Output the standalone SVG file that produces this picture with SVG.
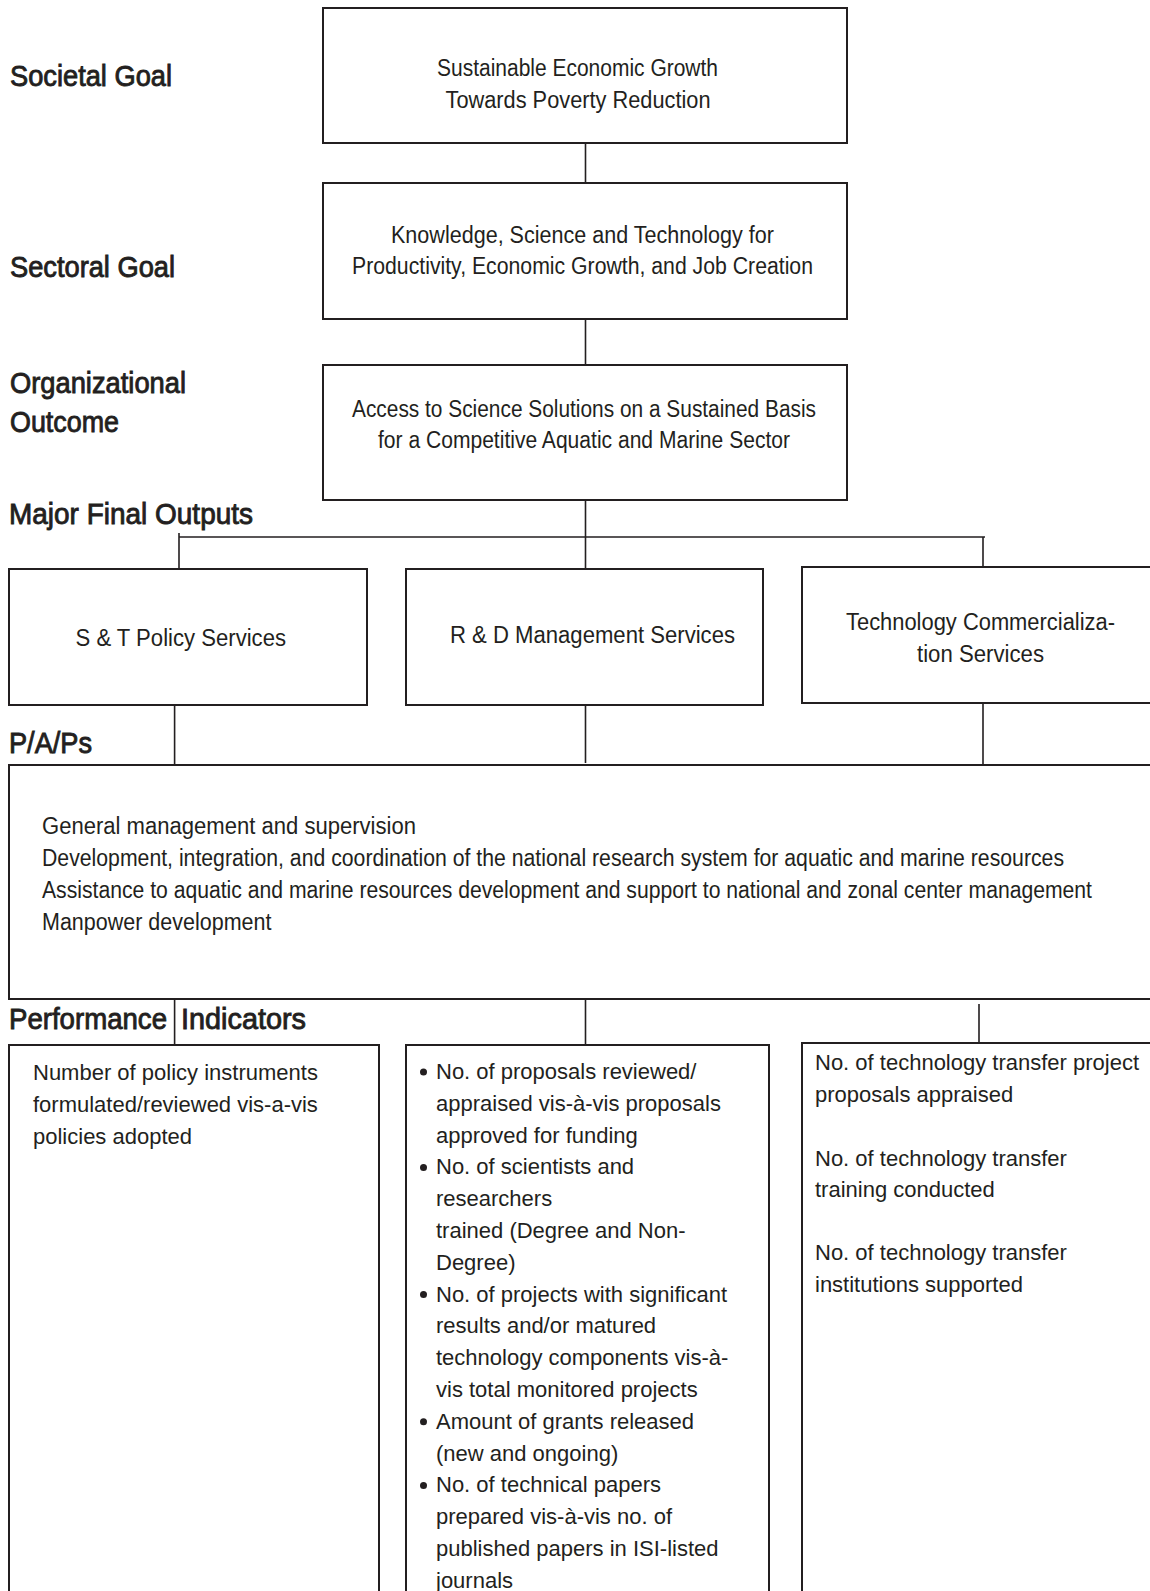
<svg xmlns="http://www.w3.org/2000/svg" width="1150" height="1591" viewBox="0 0 1150 1591">
<style>
.box{fill:#fff;stroke:#231f20;stroke-width:2}
.conn{stroke:#231f20;stroke-width:1.6;fill:none}
.lbl{font-family:"Liberation Sans",Arial,sans-serif;font-size:30px;fill:#231f20;stroke:#231f20;stroke-width:0.9}
.bt{font-family:"Liberation Sans",Arial,sans-serif;font-size:23px;fill:#231f20}
.pt{font-family:"Liberation Sans",Arial,sans-serif;font-size:22px;fill:#231f20}
.dot{fill:#231f20}
</style>
<rect width="1150" height="1591" fill="#fff"/>
<g id="connectors">
<path class="conn" d="M585.5 143V183M585.5 319V365M585.5 500V537M179 533V569M179 537H985M585.5 537V569M983 537V567M174.6 705V768M585.5 705V763M983 703V765M174.6 999V1045M585.5 999V1045M979 1004V1043"/>
</g>
<g id="labels">
<text class="lbl" x="10" y="86" textLength="162" lengthAdjust="spacingAndGlyphs">Societal Goal</text>
<text class="lbl" x="10" y="277" textLength="165" lengthAdjust="spacingAndGlyphs">Sectoral Goal</text>
<text class="lbl" x="10" y="393" textLength="176" lengthAdjust="spacingAndGlyphs">Organizational</text>
<text class="lbl" x="10" y="432" textLength="109" lengthAdjust="spacingAndGlyphs">Outcome</text>
<text class="lbl" x="9" y="524" textLength="244" lengthAdjust="spacingAndGlyphs">Major Final Outputs</text>
<text class="lbl" x="9" y="753" textLength="83" lengthAdjust="spacingAndGlyphs">P/A/Ps</text>
<text class="lbl" x="9" y="1029" textLength="158" lengthAdjust="spacingAndGlyphs">Performance</text>
<text class="lbl" x="181" y="1029" textLength="125" lengthAdjust="spacingAndGlyphs">Indicators</text>
</g>
<g id="societal">
<rect class="box" x="323" y="8" width="524" height="135"/>
<text class="bt" x="437" y="76" textLength="281" lengthAdjust="spacingAndGlyphs">Sustainable Economic Growth</text>
<text class="bt" x="445.5" y="108" textLength="265" lengthAdjust="spacingAndGlyphs">Towards Poverty Reduction</text>
</g>
<g id="sectoral">
<rect class="box" x="323" y="183" width="524" height="136"/>
<text class="bt" x="391" y="243" textLength="383" lengthAdjust="spacingAndGlyphs">Knowledge, Science and Technology for</text>
<text class="bt" x="352" y="274" textLength="461" lengthAdjust="spacingAndGlyphs">Productivity, Economic Growth, and Job Creation</text>
</g>
<g id="organizational">
<rect class="box" x="323" y="365" width="524" height="135"/>
<text class="bt" x="352" y="417" textLength="464" lengthAdjust="spacingAndGlyphs">Access to Science Solutions on a Sustained Basis</text>
<text class="bt" x="378" y="448" textLength="412" lengthAdjust="spacingAndGlyphs">for a Competitive Aquatic and Marine Sector</text>
</g>
<g id="mfo-st">
<rect class="box" x="9" y="569" width="358" height="136"/>
<text class="bt" x="75.5" y="646" textLength="210.5" lengthAdjust="spacingAndGlyphs">S &amp; T Policy Services</text>
</g>
<g id="mfo-rd">
<rect class="box" x="406" y="569" width="357" height="136"/>
<text class="bt" x="450" y="643" textLength="285" lengthAdjust="spacingAndGlyphs">R &amp; D Management Services</text>
</g>
<g id="mfo-tc">
<rect class="box" x="802" y="567" width="360" height="136"/>
<text class="bt" x="846" y="630" textLength="269" lengthAdjust="spacingAndGlyphs">Technology Commercializa-</text>
<text class="bt" x="917" y="662" textLength="127" lengthAdjust="spacingAndGlyphs">tion Services</text>
</g>
<g id="paps">
<rect class="box" x="9" y="765" width="1160" height="234"/>
<text class="bt" x="42" y="834" textLength="374" lengthAdjust="spacingAndGlyphs">General management and supervision</text>
<text class="bt" x="42" y="866" textLength="1022" lengthAdjust="spacingAndGlyphs">Development, integration, and coordination of the national research system for aquatic and marine resources</text>
<text class="bt" x="42" y="898" textLength="1050" lengthAdjust="spacingAndGlyphs">Assistance to aquatic and marine resources development and support to national and zonal center management</text>
<text class="bt" x="42" y="930" textLength="229.5" lengthAdjust="spacingAndGlyphs">Manpower development</text>
</g>
<g id="pi-st">
<rect class="box" x="9" y="1045" width="370" height="600"/>
<text class="pt" x="33" y="1080">Number of policy instruments</text>
<text class="pt" x="33" y="1112">formulated/reviewed vis-a-vis</text>
<text class="pt" x="33" y="1144">policies adopted</text>
</g>
<g id="pi-rd">
<rect class="box" x="406" y="1045" width="363" height="600"/>
<circle class="dot" cx="423.5" cy="1072" r="3.5"/>
<circle class="dot" cx="423.5" cy="1167.4" r="3.5"/>
<circle class="dot" cx="423.5" cy="1294.6" r="3.5"/>
<circle class="dot" cx="423.5" cy="1421.8" r="3.5"/>
<circle class="dot" cx="423.5" cy="1485.4" r="3.5"/>
<text class="pt" x="436" y="1079">No. of proposals reviewed/</text>
<text class="pt" x="436" y="1110.8">appraised vis-à-vis proposals</text>
<text class="pt" x="436" y="1142.6">approved for funding</text>
<text class="pt" x="436" y="1174.4">No. of scientists and</text>
<text class="pt" x="436" y="1206.2">researchers</text>
<text class="pt" x="436" y="1238">trained (Degree and Non-</text>
<text class="pt" x="436" y="1269.8">Degree)</text>
<text class="pt" x="436" y="1301.6">No. of projects with significant</text>
<text class="pt" x="436" y="1333.4">results and/or matured</text>
<text class="pt" x="436" y="1365.2">technology components vis-à-</text>
<text class="pt" x="436" y="1397">vis total monitored projects</text>
<text class="pt" x="436" y="1428.8">Amount of grants released</text>
<text class="pt" x="436" y="1460.6">(new and ongoing)</text>
<text class="pt" x="436" y="1492.4">No. of technical papers</text>
<text class="pt" x="436" y="1524.2">prepared vis-à-vis no. of</text>
<text class="pt" x="436" y="1556">published papers in ISI-listed</text>
<text class="pt" x="436" y="1587.8">journals</text>
</g>
<g id="pi-tc">
<rect class="box" x="802" y="1043" width="360" height="600"/>
<text class="pt" x="815" y="1070">No. of technology transfer project</text>
<text class="pt" x="815" y="1101.5">proposals appraised</text>
<text class="pt" x="815" y="1166">No. of technology transfer</text>
<text class="pt" x="815" y="1197">training conducted</text>
<text class="pt" x="815" y="1260">No. of technology transfer</text>
<text class="pt" x="815" y="1292">institutions supported</text>
</g>
</svg>
